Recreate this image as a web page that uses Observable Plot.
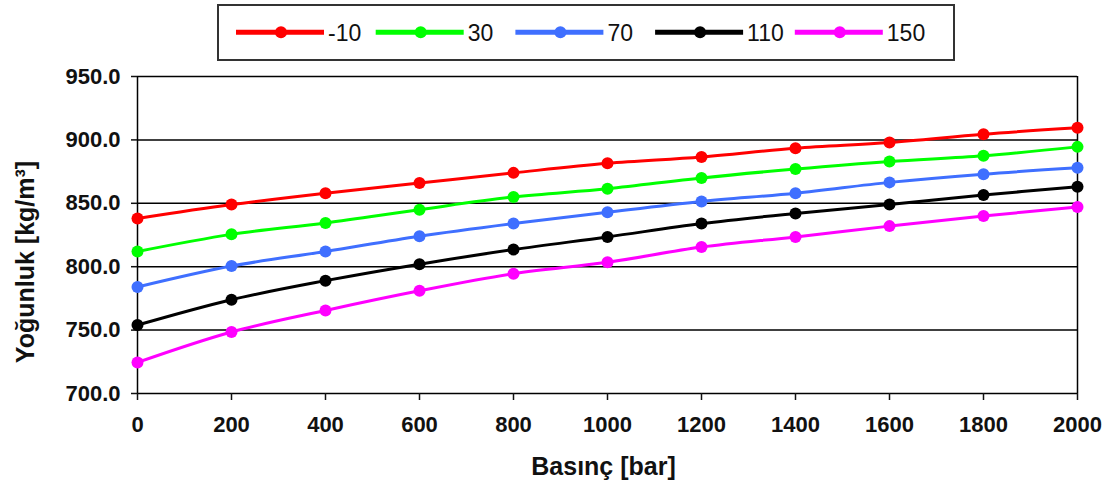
<!DOCTYPE html>
<html>
<head>
<meta charset="utf-8">
<script src="https://cdn.jsdelivr.net/npm/d3@7"></script>
<script src="https://cdn.jsdelivr.net/npm/@observablehq/plot@0.6"></script>
<style>
  body { margin: 0; background: #fff; }
  #wrap { position: relative; width: 1115px; height: 486px; font-family: "Liberation Sans", Arial, sans-serif; }
  #legend { position: absolute; left: 217px; top: 4px; }
  #chart svg { display: block; }
</style>
</head>
<body>
<div id="wrap">
  <div id="chart"></div>
  <div id="legend"></div>
</div>
<script>
// Data
const pressure = [0, 200, 400, 600, 800, 1000, 1200, 1400, 1600, 1800, 2000];
const series = ["-10", "30", "70", "110", "150"];
const colors = ["#ff0000", "#00ff00", "#3f6fff", "#000000", "#ff00ff"];
const rhoM10 = [838, 849, 858, 866, 874, 881.5, 886.5, 893.5, 898, 904.5, 909.5];
const rho30  = [812, 825.5, 834.5, 845, 855, 861.5, 870, 877, 883, 887.5, 894.5];
const rho70  = [784, 800.5, 812, 824, 834, 843, 851.5, 858, 866.5, 873, 878];
const rho110 = [754, 774, 789, 802, 813.5, 823.5, 834, 842, 849, 856.5, 863];
const rho150 = [724.5, 748.5, 765.5, 781, 794.5, 803.5, 815.5, 823.5, 832, 840, 847];
const yTicks = [700, 750, 800, 850, 900, 950];
const xTitle = "Basınç [bar]";
const yTitle = "Yoğunluk [kg/m³]";

const values = [rhoM10, rho30, rho70, rho110, rho150];
const data = series.flatMap((s, i) => pressure.map((p, j) => ({T: s, p, rho: values[i][j]})));

const font = "Liberation Sans, Arial, sans-serif";

const chart = Plot.plot({
  width: 1115,
  height: 486,
  marginTop: 76,
  marginBottom: 93,
  marginLeft: 137,
  marginRight: 38,
  style: {fontFamily: font, background: "white", color: "#111", overflow: "visible"},
  x: {domain: [0, 2000]},
  y: {domain: [700, 950]},
  color: {domain: series, range: colors},
  marks: [
    Plot.ruleY(yTicks.slice(1), {stroke: "black", strokeWidth: 1.5}),
    Plot.ruleX([2000], {stroke: "black", strokeWidth: 1.5}),
    Plot.ruleX([0], {stroke: "black", strokeWidth: 1.5}),
    Plot.ruleY([700], {stroke: "black", strokeWidth: 1.5}),
    Plot.axisY({ticks: yTicks, tickFormat: d => d.toFixed(1), tickSize: 6, tickPadding: 11,
      fontSize: 22, fontWeight: "bold", label: null, strokeWidth: 1.5}),
    Plot.axisX({ticks: pressure, tickFormat: d => String(d), tickSize: 7, tickPadding: 16,
      fontSize: 22, fontWeight: "bold", label: null, strokeWidth: 1.5}),
    Plot.line(data, {x: "p", y: "rho", stroke: "T", strokeWidth: 3, curve: "catmull-rom"}),
    Plot.dot(data, {x: "p", y: "rho", fill: "T", r: 6}),
    Plot.text([yTitle], {text: d => d, frameAnchor: "left", dx: -112, dy: 27, rotate: -90,
      textAnchor: "middle", lineAnchor: "middle", fontSize: 25, fontWeight: "bold", fill: "#111"}),
    Plot.text([xTitle], {text: d => d, frameAnchor: "bottom", dx: -4, dy: 73,
      textAnchor: "middle", lineAnchor: "middle", fontSize: 25, fontWeight: "bold", fill: "#111"})
  ]
});
document.getElementById("chart").appendChild(chart);

// Legend (HTML/SVG overlay above the plot area)
const lw = 738, lh = 57;
const leg = d3.select("#legend").append("svg").attr("width", lw).attr("height", lh);
leg.append("rect").attr("x", 1).attr("y", 1).attr("width", lw - 2).attr("height", lh - 2)
  .attr("fill", "white").attr("stroke", "#333").attr("stroke-width", 2);
series.forEach((s, i) => {
  const x0 = 19 + i * 139.7;
  const g = leg.append("g").attr("transform", `translate(${x0},28.3)`);
  g.append("line").attr("x1", 0).attr("x2", 88).attr("y1", 0).attr("y2", 0)
    .attr("stroke", colors[i]).attr("stroke-width", 5);
  g.append("circle").attr("cx", 45).attr("cy", 0).attr("r", 6).attr("fill", colors[i]);
  g.append("text").attr("x", 92).attr("y", 8.3).attr("font-size", 23)
    .attr("font-family", font).attr("fill", "#111").text(s);
});
</script>
</body>
</html>
